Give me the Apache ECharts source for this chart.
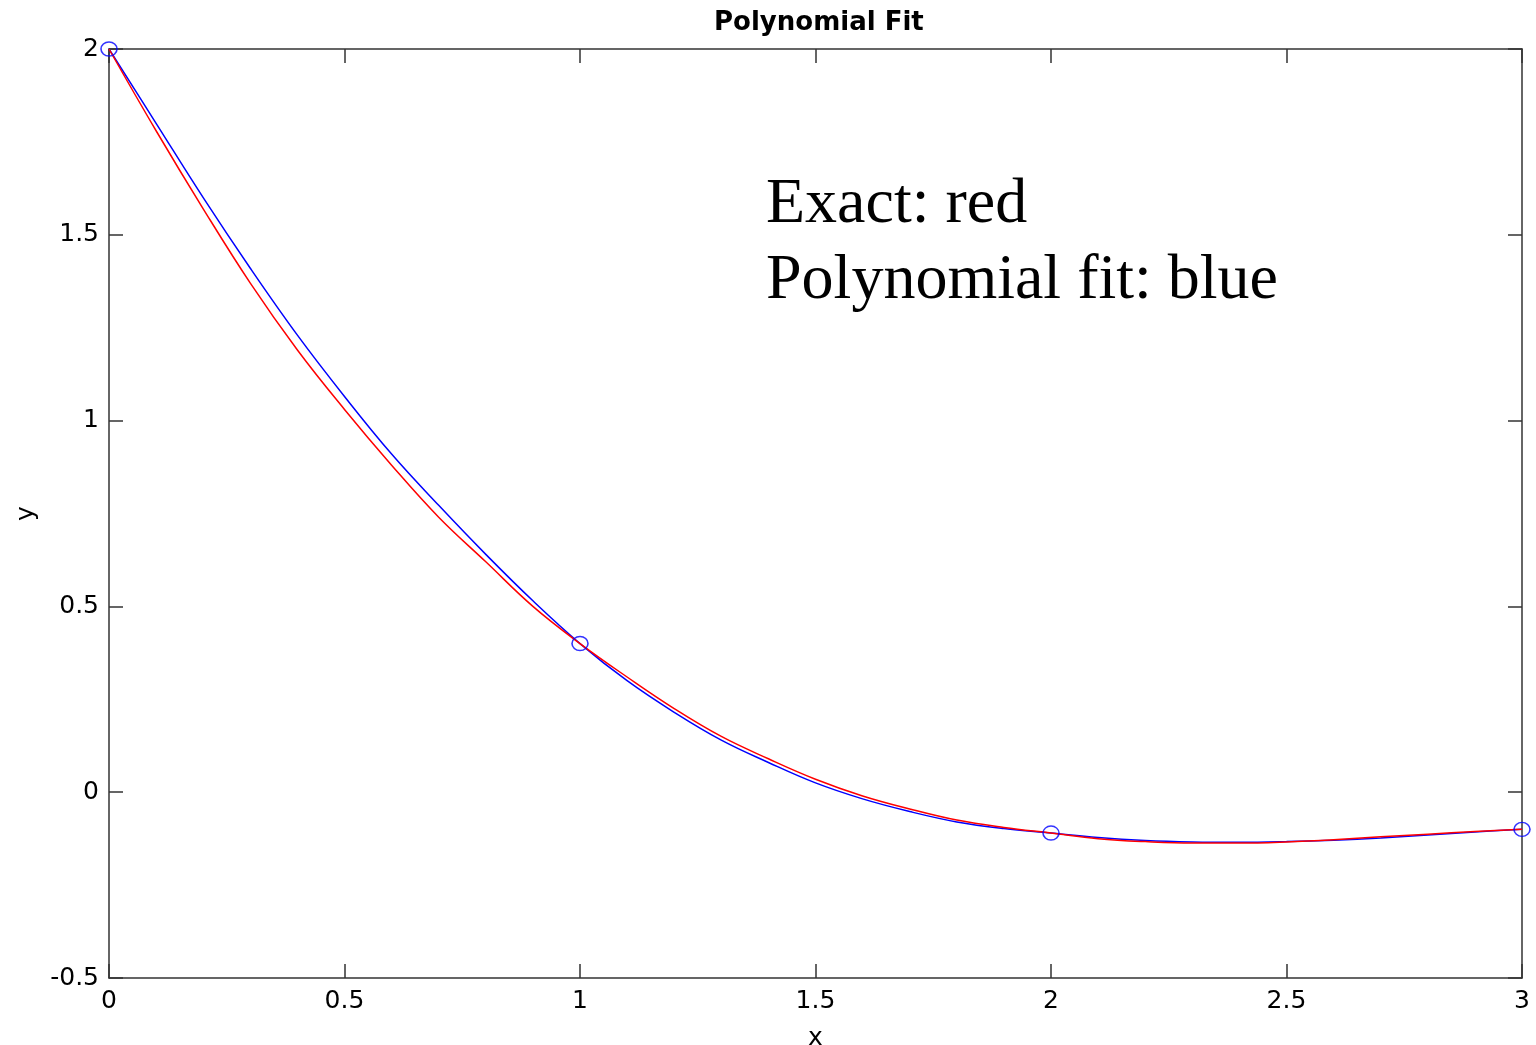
<!DOCTYPE html>
<html lang="en">
<head>
    <meta charset="UTF-8">
    <title>Polynomial Fit</title>
    <script src="https://cdn.jsdelivr.net/npm/echarts@6/dist/echarts.min.js"></script>
    <style>
        html, body { margin: 0; padding: 0; background: #fff; }
    </style>
</head>
<body>
<div id="main" style="width: 1536px;height:1045px;"></div>

<script type="text/javascript">
    // sample x positions for the two curves
    var xs = [0, 0.1, 0.2, 0.3, 0.4, 0.5, 0.6, 0.7, 0.8, 0.9,
              1.0, 1.1, 1.2, 1.3, 1.4, 1.5, 1.6, 1.7, 1.8, 1.9,
              2.0, 2.1, 2.2, 2.3, 2.4, 2.5, 2.6, 2.7, 2.8, 2.9, 3.0];
    // exact function (red)
    var exactY = [2.0, 1.78, 1.57, 1.37, 1.19, 1.03, 0.88, 0.74, 0.62, 0.50,
                  0.40, 0.31, 0.225, 0.15, 0.09, 0.035, -0.01, -0.045, -0.075, -0.095,
                  -0.11, -0.125, -0.133, -0.137, -0.137, -0.134, -0.128, -0.12, -0.113, -0.106, -0.10];
    // polynomial fit (blue)
    var fitY = [2.0, 1.80, 1.60, 1.41, 1.23, 1.065, 0.91, 0.772, 0.64, 0.515,
                0.40, 0.30, 0.215, 0.14, 0.08, 0.025, -0.018, -0.052, -0.08, -0.098,
                -0.11, -0.122, -0.13, -0.134, -0.135, -0.133, -0.129, -0.123, -0.115, -0.107, -0.10];
    // data points used for the fit (circles)
    var nodeX = [0, 1, 2, 3];
    var nodeY = [2.0, 0.4, -0.11, -0.10];

    var font = "'DejaVu Sans', sans-serif";

    function pairs(a, b) {
        var out = [];
        for (var i = 0; i < a.length; i++) out.push([a[i], b[i]]);
        return out;
    }

    var myChart = echarts.init(document.getElementById('main'));

    var axisLine = { show: true, onZero: false, lineStyle: { color: '#333', width: 1.5 } };
    var tick = { show: true, inside: true, length: 14, lineStyle: { color: '#333', width: 1.5 } };

    var option = {
        animation: false,
        backgroundColor: '#fff',
        title: {
            text: 'Polynomial Fit',
            left: 709,
            top: 5,
            textStyle: { fontFamily: font, fontSize: 26, fontWeight: 'bold', color: '#000' }
        },
        grid: { left: 109, right: 14, top: 49, bottom: 67, outerBoundsMode: 'none', containLabel: false },
        xAxis: [
            {
                type: 'value', min: 0, max: 3, interval: 0.5, position: 'bottom',
                name: 'x', nameLocation: 'middle', nameGap: 48,
                nameTextStyle: { fontFamily: font, fontSize: 25, color: '#000' },
                axisLine: axisLine, axisTick: tick,
                axisLabel: { fontFamily: font, fontSize: 25, color: '#000', margin: 11 },
                splitLine: { show: false }
            },
            {
                type: 'value', min: 0, max: 3, interval: 0.5, position: 'top',
                axisLine: axisLine, axisTick: tick,
                axisLabel: { show: false }, splitLine: { show: false }
            }
        ],
        yAxis: [
            {
                type: 'value', min: -0.5, max: 2, interval: 0.5, position: 'left',
                name: 'y', nameLocation: 'middle', nameGap: 70,
                nameTextStyle: { fontFamily: font, fontSize: 25, color: '#000' },
                axisLine: axisLine, axisTick: tick,
                axisLabel: { fontFamily: font, fontSize: 25, color: '#000', margin: 10 },
                splitLine: { show: false }
            },
            {
                type: 'value', min: -0.5, max: 2, interval: 0.5, position: 'right',
                axisLine: axisLine, axisTick: tick,
                axisLabel: { show: false }, splitLine: { show: false }
            }
        ],
        series: [
            {
                name: 'Exact',
                type: 'line',
                data: pairs(xs, exactY),
                smooth: 0.4,
                showSymbol: false,
                lineStyle: { color: '#ff0000', width: 1.5 },
                z: 3
            },
            {
                name: 'Polynomial fit',
                type: 'line',
                data: pairs(xs, fitY),
                smooth: 0.4,
                showSymbol: false,
                lineStyle: { color: '#0000ff', width: 1.5 },
                z: 2
            },
            {
                name: 'Points',
                type: 'scatter',
                data: pairs(nodeX, nodeY),
                symbol: 'circle',
                symbolSize: [16, 14],
                itemStyle: { color: 'transparent', borderColor: '#0000ff', borderWidth: 1.5 },
                z: 4
            }
        ],
        graphic: [
            {
                type: 'text',
                left: 766,
                top: 167,
                style: {
                    text: 'Exact: red\nPolynomial fit: blue',
                    fontFamily: "'Liberation Serif', 'Times New Roman', serif",
                    fontSize: 64,
                    lineHeight: 76,
                    fill: '#000'
                }
            }
        ]
    };
    myChart.setOption(option);
</script>
</body>
</html>
